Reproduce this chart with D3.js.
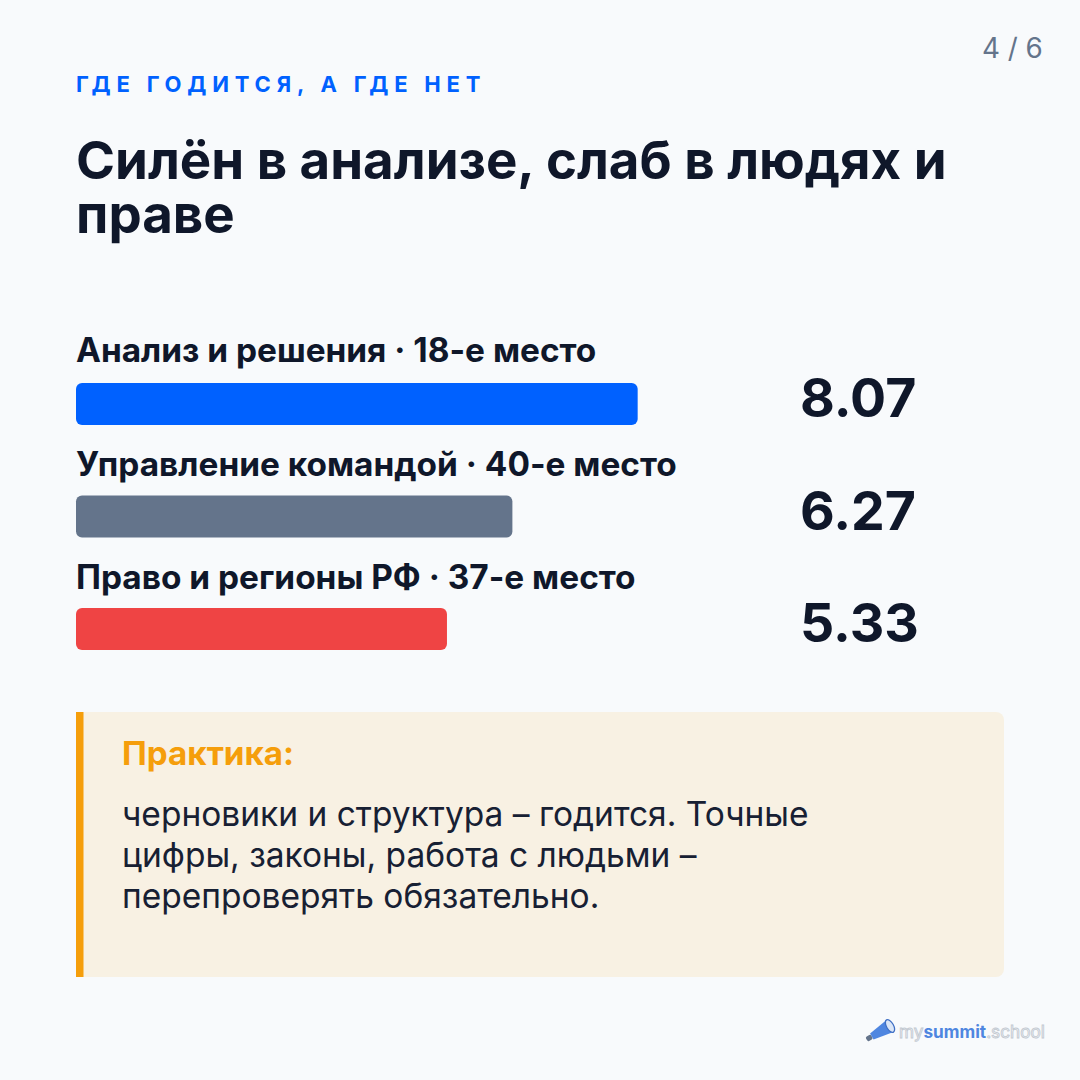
<!DOCTYPE html>
<html><head><meta charset="utf-8">
<script src="https://cdnjs.cloudflare.com/ajax/libs/d3/7.8.5/d3.min.js"></script>
<style>html,body{margin:0;padding:0;background:#f8fafc}svg{display:block}text{font-family:Inter,sans-serif}</style>
</head><body><svg id="c" width="1080" height="1080"></svg>
<script>
const categories=["Анализ и решения · 18-е место","Управление командой · 40-е место","Право и регионы РФ · 37-е место"];
const values=[8.07,6.27,5.33];
const valueLabels=["8.07","6.27","5.33"];
const colors=["#0061ff","#64748b","#ef4444"];
const titleLines=["Силён в анализе, слаб в людях и","праве"];
const bodyLines=["черновики и структура – годится. Точные","цифры, законы, работа с людьми –","перепроверять обязательно."];
const brand=["my","summit",".school"];
const svg=d3.select("#c");
svg.append("rect").attr("width",1080).attr("height",1080).attr("fill","#f8fafc");
const T=(x,y,s,size,w,fill,extra)=>{const t=svg.append("text").attr("x",x).attr("y",y).attr("font-size",size).attr("font-weight",w).attr("fill",fill).text(s);if(extra)t.attr("letter-spacing",extra);return t;};
T(982,58,"4 / 6",27.8,400,"#64748b");
T(76,92,"ГДЕ ГОДИТСЯ, А ГДЕ НЕТ",22,700,"#0061ff","5.8px");
titleLines.forEach((l,i)=>T(76,179+i*54,l,52.8,700,"#0f172a"));
const x=d3.scaleLinear().domain([0,10]).range([76,772]);
const tops=[383,495.5,608],labelY=[362,475.5,589],valY=[417,530,642];
categories.forEach((c,i)=>{
 T(76,labelY[i],c,33.4,700,"#0f172a");
 svg.append("rect").attr("x",x(0)).attr("y",tops[i]).attr("width",x(values[i])-x(0)).attr("height",42).attr("rx",6).attr("fill",colors[i]);
 T(800,valY[i],valueLabels[i],53.6,700,"#0f172a");
});
svg.append("rect").attr("x",76).attr("y",712).attr("width",928).attr("height",265).attr("rx",8).attr("fill","#f8f1e3");
svg.append("rect").attr("x",76).attr("y",712).attr("width",7.5).attr("height",265).attr("fill","#f59e0b");
T(122,765,"Практика:",33.2,700,"#f59e0b");
bodyLines.forEach((l,i)=>T(122,826+i*41,l,33.5,400,"#172033"));
// brand mark
const g=svg.append("g").attr("transform","translate(890,1026) rotate(-30)");
g.append("rect").attr("x",-27).attr("y",-2.5).attr("width",6).attr("height",5).attr("rx",1.5).attr("fill","#64748b");
g.append("path").attr("d","M-21,-3.5 L0,-7 L0,7 L-21,3.5 Z").attr("fill","#4f86e0");
g.append("ellipse").attr("cx",0).attr("cy",0).attr("rx",3.5).attr("ry",7).attr("fill","#dbe6f7").attr("stroke","#3f6fc4").attr("stroke-width",1.3);
const brandText=svg.append("text").attr("x",899).attr("y",1038).attr("font-size",17.2);
brandText.append("tspan").attr("fill","#f8fafc").attr("stroke","#c3c9d1").attr("stroke-width",0.9).text(brand[0]);
brandText.append("tspan").attr("fill","#4f86e0").attr("font-weight",700).text(brand[1]);
brandText.append("tspan").attr("fill","#f8fafc").attr("stroke","#c3c9d1").attr("stroke-width",0.9).text(brand[2]);
</script></body></html>
